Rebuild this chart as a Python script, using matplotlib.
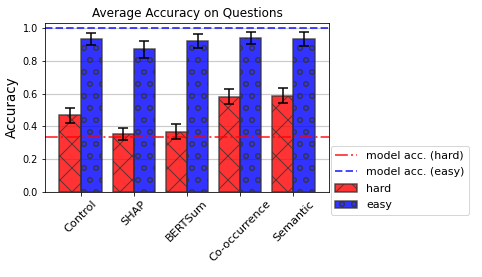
import matplotlib
matplotlib.use("Agg")
import matplotlib.pyplot as plt
import numpy as np

categories = ["Control", "SHAP", "BERTSum", "Co-occurrence", "Semantic"]
hard_vals = [0.469, 0.353, 0.367, 0.581, 0.588]
hard_err = [0.046, 0.035, 0.047, 0.045, 0.047]
easy_vals = [0.934, 0.871, 0.924, 0.942, 0.934]
easy_err = [0.035, 0.055, 0.042, 0.035, 0.042]
model_acc_hard = 0.335
model_acc_easy = 1.0

DPI = 72
fig = plt.figure(figsize=(482 / DPI, 277 / DPI), dpi=DPI)
ax = fig.add_axes([0.0934, 0.308, 0.589, 0.610])

x = np.arange(len(categories))
w = 0.4
plt.rcParams['hatch.color'] = '#333333'
plt.rcParams['hatch.linewidth'] = 1.0
ax.set_axisbelow(True)
ax.yaxis.grid(True, color='#cccccc', linewidth=1.2)

hl = ax.axhline(model_acc_hard, color='red', linestyle='-.', alpha=0.7, linewidth=2,
                label='model acc. (hard)')
el = ax.axhline(model_acc_easy, color='blue', linestyle='--', alpha=0.7, linewidth=2,
                label='model acc. (easy)')
b1 = ax.bar(x - w / 2, hard_vals, w, yerr=hard_err, capsize=5, color='red', alpha=0.8,
            edgecolor='#333333', linewidth=1.5, hatch='x', label='hard',
            error_kw=dict(ecolor='black', elinewidth=1.5, capthick=1.5))
b2 = ax.bar(x + w / 2, easy_vals, w, yerr=easy_err, capsize=5, color='blue', alpha=0.8,
            edgecolor='#333333', linewidth=1.5, hatch='o', label='easy',
            error_kw=dict(ecolor='black', elinewidth=1.5, capthick=1.5))

ax.set_xticks(x)
ax.set_xticklabels(categories, rotation=45, fontsize=11.2, ha='center')
ax.tick_params(axis='y', labelsize=9.8)
ax.set_ylim(0, 1.035)
ax.set_xlim(-0.67, 4.67)
ax.set_ylabel('Accuracy', fontsize=13.5)
ax.set_title('Average Accuracy on Questions', fontsize=12)

fig.legend(handles=[hl, el, b1, b2], loc='upper left',
           bbox_to_anchor=(325.5 / 482, 1 - 140.5 / 277),
           fontsize=11, frameon=True, labelspacing=0.6)

fig.savefig('out.png', dpi=DPI)
